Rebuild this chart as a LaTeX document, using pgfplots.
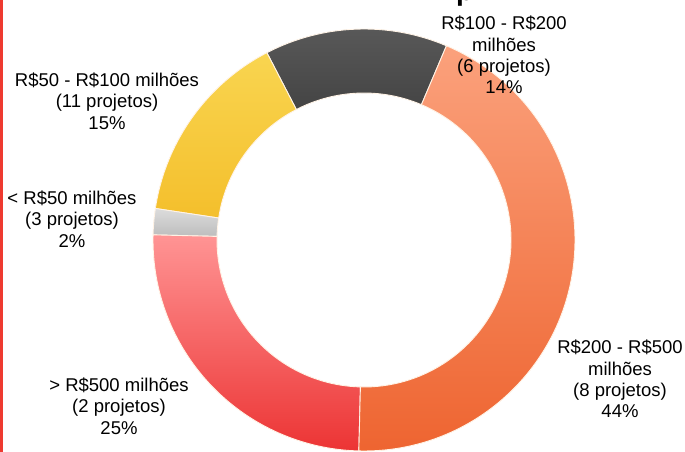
\documentclass[border=0pt]{standalone}
\usepackage{pgfplots}
\pgfplotsset{compat=1.18}
\usepackage{pgfplotstable}
\usepackage{fontspec}
\setmainfont{Liberation Sans}

\definecolor{darkT}{HTML}{5A5A5A}
\definecolor{darkB}{HTML}{444444}
\definecolor{yelT}{HTML}{F9D550}
\definecolor{yelB}{HTML}{F4BF2C}
\definecolor{grT}{HTML}{DCDCDC}
\definecolor{grB}{HTML}{BDBDBD}
\definecolor{redT}{HTML}{FF9494}
\definecolor{redB}{HTML}{EC3434}
\definecolor{orT}{HTML}{FBA17C}
\definecolor{orB}{HTML}{EE6430}
\definecolor{sideRed}{HTML}{EE3A30}
\definecolor{edge}{HTML}{FFF3E6}

% slices counter-clockwise, starting at 67 degrees
\pgfplotstableread[col sep=comma]{
label,value,top,bottom
R100a200,14,darkT,darkB
R50a100,15,yelT,yelB
menos50,2,grT,grB
mais500,25,redT,redB
R200a500,44,orT,orB
}\slices

\begin{document}
\begin{tikzpicture}
\useasboundingbox (0,0) rectangle (685bp,452bp);
\clip (0,0) rectangle (685bp,452bp);
\begin{axis}[
  x=1bp, y=1bp,
  xmin=0, xmax=685, ymin=0, ymax=452,
  hide axis, clip=false,
  at={(0,0)}, anchor=south west,
]
\fill[sideRed] (axis cs:0,0) rectangle (axis cs:3,452);

\pgfplotstablegetrowsof{\slices}
\pgfmathtruncatemacro\N{\pgfplotsretval-1}
\xdef\cum{0}
\foreach \i in {0,...,\N}{
  \pgfplotstablegetelem{\i}{value}\of\slices \let\val\pgfplotsretval
  \pgfplotstablegetelem{\i}{top}\of\slices \let\ct\pgfplotsretval
  \pgfplotstablegetelem{\i}{bottom}\of\slices \let\cb\pgfplotsretval
  \pgfmathsetmacro\as{67+3.6*\cum}
  \pgfmathsetmacro\ae{\as+3.6*\val}
  \pgfmathsetmacro\xo{364+211*cos(\as)}
  \pgfmathsetmacro\yo{212+211*sin(\as)}
  \pgfmathsetmacro\xin{364+147*cos(\ae)}
  \pgfmathsetmacro\yin{212+147*sin(\ae)}
  \edef\temp{\noexpand\shadedraw[top color=\ct, bottom color=\cb, draw=edge, line width=0.9bp]
    (axis cs:\xo,\yo) arc[start angle=\as, end angle=\ae, radius=211bp]
    -- (axis cs:\xin,\yin) arc[start angle=\ae, end angle=\as, radius=147bp] -- cycle;}
  \temp
  \pgfmathsetmacro\newcum{\cum+\val}\xdef\cum{\newcum}
}

\begin{scope}[every node/.style={align=center, inner sep=0pt, font=\fontsize{18.5bp}{21.3bp}\selectfont}]
\node at (axis cs:504,397) {R\$100 - R\$200\\milhões\\(6 projetos)\\14\%};
\node at (axis cs:107,351) {R\$50 - R\$100 milhões\\(11 projetos)\\15\%};
\node at (axis cs:72,233) {< R\$50 milhões\\(3 projetos)\\2\%};
\node at (axis cs:119,46) {> R\$500 milhões\\(2 projetos)\\25\%};
\node at (axis cs:620,73) {R\$200 - R\$500\\milhões\\(8 projetos)\\44\%};
\end{scope}
\node[anchor=base west, inner sep=0pt, font=\bfseries\fontsize{28bp}{28bp}\selectfont] at (axis cs:456,451) {p};
\end{axis}
\end{tikzpicture}
\end{document}
